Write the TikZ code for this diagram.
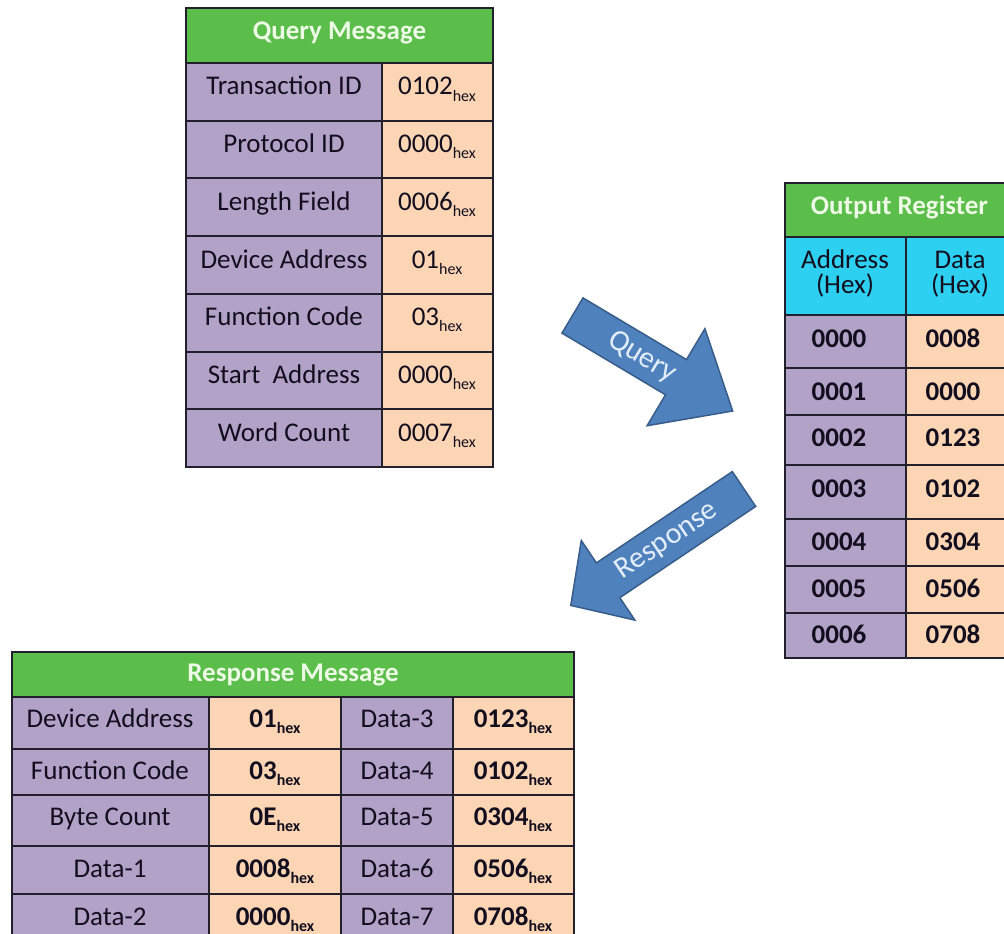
\documentclass[tikz,border=0pt]{standalone}
\usepackage{fontspec}
\setmainfont{Carlito}
\definecolor{hdr}{RGB}{92,190,74}
\definecolor{lav}{RGB}{179,162,199}
\definecolor{peach}{RGB}{252,213,181}
\definecolor{cyn}{RGB}{45,208,240}
\definecolor{arr}{RGB}{79,129,189}
\definecolor{arrline}{RGB}{56,93,138}
\definecolor{gridc}{RGB}{35,32,45}
\definecolor{hdrtext}{RGB}{236,250,230}
\definecolor{arrtext}{RGB}{228,238,250}
\definecolor{ink}{RGB}{18,14,30}
\newcommand\hx{\raisebox{-6pt}{\fontsize{16}{16}\selectfont hex}}
\tikzset{
  txt/.style={anchor=base, inner sep=0pt, font=\fontsize{27}{25}\selectfont, text=ink, align=center},
  btxt/.style={txt, font=\fontsize{27}{25}\selectfont\bfseries},
  hdrtxt/.style={anchor=base, inner sep=0pt, font=\fontsize{27}{30}\selectfont\bfseries, text=hdrtext},
  gridline/.style={draw=gridc, line width=2pt},
  arrowshape/.style={fill=arr, draw=arrline, line width=1.5pt, line join=miter},
  arrtxt/.style={font=\fontsize{30}{32}\selectfont, text=arrtext, inner sep=0pt},
}
\begin{document}
\begin{tikzpicture}[x=1pt,y=-1pt]
\useasboundingbox (0,0) rectangle (1004,934);
\clip (0,0) rectangle (1004,934);
\fill[white] (0,0) rectangle (1004,934);

% ---------------- Query Message table ----------------
\fill[hdr] (186,8) rectangle (493,63);
\fill[lav] (186,63) rectangle (382,467);
\fill[peach] (382,63) rectangle (493,467);
\foreach \y in {63,120.7,178.4,236.1,293.8,351.5,409.2}
  \draw[gridline] (186,\y) -- (493,\y);
\draw[gridline] (382,63) -- (382,467);
\draw[gridline] (186,8) rectangle (493,467);
\node[hdrtxt] (qh) at (339.5,40) {Query Message};
\foreach \t [count=\i] in {Transaction ID,Protocol ID,Length Field,Device Address,Function Code,Start\ \ Address,Word Count}
  \node[txt] (ql\i) at (284,{95+57.7*(\i-1)}) {\t};
\foreach \t [count=\i] in {0102\hx,0000\hx,0006\hx,01\hx,03\hx,0000\hx,0007\hx}
  \node[txt] (qv\i) at (437,{95+57.7*(\i-1)}) {\t};

% ---------------- Output Register table ----------------
\fill[hdr] (785,183) rectangle (1014,237);
\fill[cyn] (785,237) rectangle (1014,315);
\fill[lav] (785,315) rectangle (906,658);
\fill[peach] (906,315) rectangle (1014,658);
\foreach \y in {237,315,368,415,465,519,566,613}
  \draw[gridline] (785,\y) -- (1014,\y);
\draw[gridline] (906,237) -- (906,658);
\draw[gridline] (785,183) rectangle (1014,658);
\node[hdrtxt] (oh) at (899.5,214) {Output Register};
\node[txt] (oa) at (845,268) {Address};
\node[txt] (oah) at (845,293) {(Hex)};
\node[txt] (od) at (960,268) {Data};
\node[txt] (odh) at (960,293) {(Hex)};
\foreach \a/\d/\yb [count=\i] in {0000/0008/347,0001/0000/400,0002/0123/446,0003/0102/497,0004/0304/550,0005/0506/597,0006/0708/643}{
  \node[btxt] (oa\i) at (839,\yb) {\a};
  \node[btxt] (od\i) at (953,\yb) {\d};
}

% ---------------- Response Message table ----------------
\fill[hdr] (12,652) rectangle (574,697);
\fill[lav] (12,697) rectangle (209,944);
\fill[peach] (209,697) rectangle (341,944);
\fill[lav] (341,697) rectangle (453,944);
\fill[peach] (453,697) rectangle (574,944);
\foreach \y in {697,749,795,846,894}
  \draw[gridline] (12,\y) -- (574,\y);
\foreach \x in {209,341,453}
  \draw[gridline] (\x,697) -- (\x,944);
\draw[gridline] (12,652) rectangle (574,944);
\node[hdrtxt] (rh) at (293,681) {Response Message};
\foreach \la/\va/\lb/\vb/\yb [count=\i] in {Device Address/01\hx/Data-3/0123\hx/727,Function Code/03\hx/Data-4/0102\hx/779,Byte Count/0E\hx/Data-5/0304\hx/825,Data-1/0008\hx/Data-6/0506\hx/877,Data-2/0000\hx/Data-7/0708\hx/925}{
  \node[txt] (rla\i) at (110,\yb) {\la};
  \node[btxt] (rva\i) at (275,\yb) {\va};
  \node[txt] (rlb\i) at (397,\yb) {\lb};
  \node[btxt] (rvb\i) at (513,\yb) {\vb};
}

% ---------------- Block arrows ----------------
\draw[arrowshape] (583,297.9) -- (686.5,359.6) -- (704.9,328.7) -- (732.7,411)
  -- (647.1,425.7) -- (665.5,394.8) -- (562,333.1) -- cycle;
\node[arrtxt, rotate=-30.8] (qlab) at (642,357) {Query};

\draw[arrowshape] (732.3,471.6) -- (596.4,562.9) -- (581.3,540.5) -- (570.8,605.4)
  -- (634.9,620.1) -- (619.8,597.7) -- (755.7,506.4) -- cycle;
\node[arrtxt, rotate=33.9] (rlab) at (667,541) {Response};
\end{tikzpicture}
\end{document}
